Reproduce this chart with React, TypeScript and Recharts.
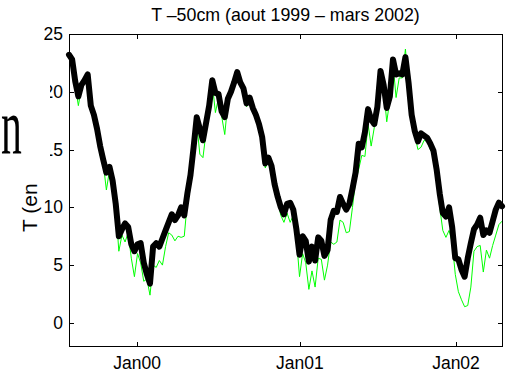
import React from "react";
import { LineChart, Line, XAxis, YAxis } from "recharts";

// weekly samples starting 1 Aug 1999
const START = Date.UTC(1999, 7, 1);
const END = Date.UTC(2002, 2, 31);
const STEP_DAYS = 7;
const DAY = 86400000;

const tickDates = ["2000-01-01", "2001-01-01", "2002-01-01"];
const tickLabels = ["Jan00", "Jan01", "Jan02"];
const yTicks = [0, 5, 10, 15, 20, 25];

// smoothed temperature at -50cm (thick black)
const blackT = [
  23.2, 22.8, 20.9, 19.6, 20.6, 21.0, 21.5, 18.8, 18.0, 16.8,
  15.3, 14.1, 13.0, 13.5, 12.3, 10.3, 7.5, 8.1, 8.6, 8.3,
  6.8, 6.2, 6.8, 6.9, 5.2, 4.2, 3.4, 6.6, 6.9, 6.6,
  7.3, 8.0, 8.7, 9.4, 8.9, 9.3, 10.0, 9.3, 11.2, 12.8,
  15.2, 17.8, 16.8, 15.8, 17.3, 18.8, 21.0, 19.9, 19.8, 18.3,
  17.8, 19.4, 20.0, 20.8, 21.7, 20.8, 20.3, 19.0, 19.5, 18.6,
  18.0, 17.2, 16.1, 13.8, 14.3, 13.6, 12.0, 10.9, 10.0, 9.4,
  10.3, 10.4, 9.8, 8.1, 5.9, 7.5, 7.1, 5.3, 6.6, 5.4,
  7.4, 7.1, 5.8, 6.3, 8.9, 9.7, 9.6, 10.9, 10.3, 9.8,
  10.3, 11.6, 13.0, 15.5, 15.2, 16.5, 18.5, 17.6, 17.2, 18.7,
  21.8, 20.6, 18.6, 19.6, 22.8, 21.5, 21.6, 21.5, 23.0, 20.8,
  18.0, 16.6, 15.7, 16.4, 16.2, 16.0, 15.5, 14.9, 13.3, 11.2,
  9.5, 9.2, 10.0, 8.3, 5.6, 5.5, 4.6, 4.0, 5.6, 6.9,
  8.1, 8.5, 9.1, 7.6, 8.0, 7.8, 8.8, 9.8, 10.4, 10.1,
];

// raw daily temperature (thin green)
const greenT = [
  22.9, 22.4, 20.6, 18.8, 20.3, 20.8, 21.3, 18.6, 17.7, 16.5,
  14.5, 13.8, 11.5, 13.2, 12.0, 10.0, 6.2, 7.6, 7.0, 7.8,
  5.6, 4.0, 6.0, 5.2, 3.6, 3.8, 2.4, 5.0, 4.8, 5.4,
  5.0, 6.6, 7.8, 7.6, 7.1, 7.5, 7.4, 7.5, 10.5, 12.2,
  14.8, 17.3, 14.6, 14.3, 16.5, 18.5, 20.7, 18.2, 19.5, 17.9,
  16.3, 19.1, 19.7, 20.5, 21.5, 20.5, 19.9, 18.7, 19.2, 18.2,
  17.6, 16.9, 15.8, 13.4, 14.0, 13.3, 11.7, 10.6, 9.3, 8.7,
  9.5, 8.7, 9.3, 7.4, 4.0, 6.0, 5.2, 2.9, 4.5, 3.1,
  5.6, 5.5, 3.7, 5.0, 7.0, 6.8, 7.0, 8.9, 8.7, 7.8,
  7.9, 10.0, 12.3, 13.3, 14.5, 14.4, 17.2, 15.3, 16.9, 18.4,
  21.5, 20.3, 17.4, 19.3, 22.5, 19.5, 21.2, 21.2, 23.7, 20.5,
  17.7, 16.3, 15.0, 15.2, 15.8, 15.7, 15.0, 14.5, 12.5, 10.0,
  8.0, 7.4, 8.0, 7.0, 4.2, 2.7, 2.0, 1.4, 1.5, 3.1,
  6.2, 6.6, 6.7, 4.4, 6.3, 5.6, 6.7, 7.6, 8.5, 8.8,
];

const data = blackT.map((b, i) => ({
  t: START + i * STEP_DAYS * DAY,
  black: b,
  green: greenT[i],
}));

const xTicks = tickDates.map((d) => Date.parse(d + "T00:00:00Z"));

const W = 508;
const H = 373;
const LEFT = 69;
const RIGHT = 502;
const TOP = 34;
const BOTTOM = 346;
const FONT = "'Liberation Sans', Arial, sans-serif";
const FS = 17.5;
const AX = "#000";

function YTick(props: any) {
  const { y, payload } = props;
  const yy = Math.round(y) + 0.5;
  return (
    <g>
      <text x={63} y={y + 6} textAnchor="end" fontFamily={FONT} fontSize={FS} fill="#000">
        {payload.value}
      </text>
      <line x1={LEFT} x2={LEFT + 5} y1={yy} y2={yy} stroke={AX} strokeWidth={1} />
      <line x1={RIGHT - 4} x2={RIGHT + 1} y1={yy} y2={yy} stroke={AX} strokeWidth={1} />
    </g>
  );
}

function XTick(props: any) {
  const { x, payload } = props;
  const idx = xTicks.indexOf(payload.value);
  const xx = Math.round(x) + 0.5;
  return (
    <g>
      <text x={x} y={368.5} textAnchor="middle" fontFamily={FONT} fontSize={FS} fill="#000">
        {tickLabels[idx]}
      </text>
      <line x1={xx} x2={xx} y1={BOTTOM + 1} y2={BOTTOM - 4} stroke={AX} strokeWidth={1} />
      <line x1={xx} x2={xx} y1={TOP} y2={TOP + 5} stroke={AX} strokeWidth={1} />
    </g>
  );
}

export default function App() {
  return (
    <div style={{ position: "absolute", left: 0, top: 0, width: W, height: H, background: "#fff" }}>
      <LineChart
        width={W}
        height={H}
        data={data}
        margin={{ top: TOP, right: W - RIGHT, left: 0, bottom: 0 }}
      >
        <XAxis
          dataKey="t"
          type="number"
          domain={[START, END]}
          ticks={xTicks}
          tick={<XTick />}
          tickLine={false}
          axisLine={false}
          height={H - BOTTOM}
        />
        <YAxis
          type="number"
          domain={[-2, 25]}
          ticks={yTicks}
          tick={<YTick />}
          tickLine={false}
          axisLine={false}
          width={LEFT}
        />
        <Line
          type="linear"
          dataKey="green"
          stroke="#00ff00"
          strokeWidth={1}
          dot={false}
          isAnimationActive={false}
        />
        <Line
          type="linear"
          dataKey="black"
          stroke="#000"
          strokeWidth={6}
          strokeLinejoin="round"
          strokeLinecap="round"
          dot={false}
          isAnimationActive={false}
        />
      </LineChart>
      {/* axes box */}
      <div
        style={{
          position: "absolute",
          left: LEFT,
          top: TOP,
          width: RIGHT - LEFT + 1,
          height: BOTTOM - TOP + 1,
          border: "1px solid #000",
          boxSizing: "border-box",
          pointerEvents: "none",
        }}
      />
      <svg
        width={W}
        height={H}
        style={{ position: "absolute", left: 0, top: 0, pointerEvents: "none" }}
      >
        <text x={(LEFT + RIGHT) / 2} y={20.5} textAnchor="middle" fontFamily={FONT} fontSize={17.8} fill="#000">
          T –50cm (aout 1999 – mars 2002)
        </text>
        <text
          x={37}
          y={232}
          transform="rotate(-90 37 232)"
          fontFamily={FONT}
          fontSize={21}
          fill="#000"
        >
          T (en °C)
        </text>
        {/* leftover panel covering part of the axis labels */}
        <rect x={0} y={70} width={50} height={113} fill="#fff" />
        <text
          x={0}
          y={153}
          transform="translate(1 0) scale(0.52 1)"
          fontFamily="'Liberation Serif', 'Times New Roman', serif"
          fontSize={80}
          fill="#000"
        >
          n
        </text>
      </svg>
    </div>
  );
}
